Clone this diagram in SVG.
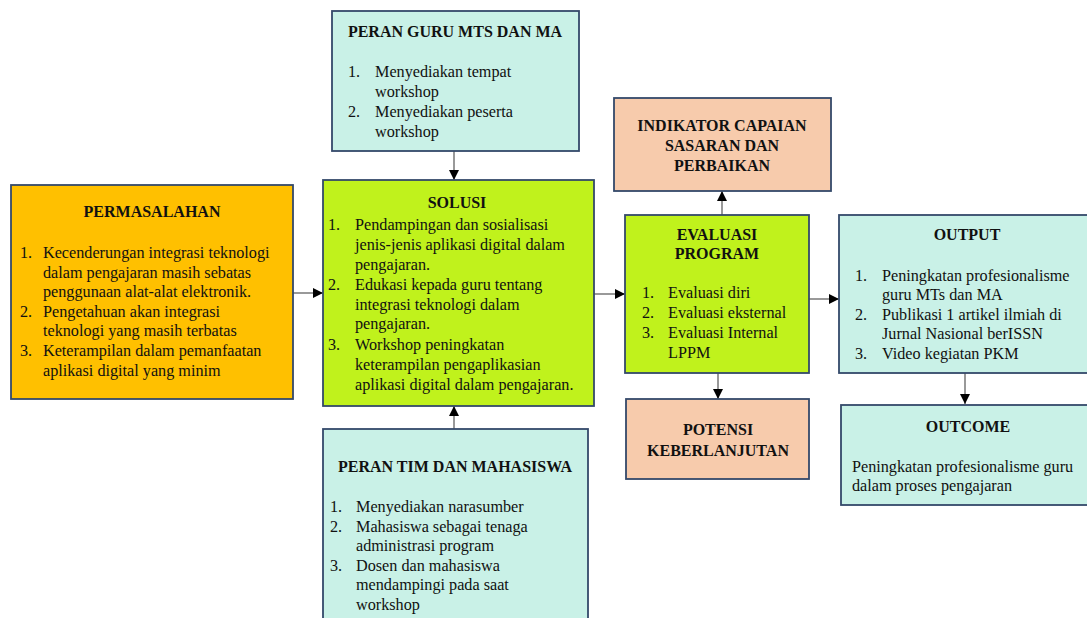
<svg xmlns="http://www.w3.org/2000/svg" width="1087" height="618" viewBox="0 0 1087 618">
<defs>
<marker id="ah" viewBox="0 0 10 10" refX="10" refY="5" markerWidth="10" markerHeight="10" markerUnits="userSpaceOnUse" orient="auto">
<path d="M0,0 L10,5 L0,10 z" fill="#000"/>
</marker>
<style>
.box{stroke:#34496a;stroke-width:1.8}
.org{fill:#ffc000}
.teal{fill:#c9f1e7}
.lime{fill:#c0f21c}
.peach{fill:#f7cbac}
text{font-family:"Liberation Serif","Times New Roman",serif;fill:#111}
.t{font-size:16px;font-weight:bold;text-anchor:middle}
.b{font-size:16.2px}
.c{stroke:#555;stroke-width:1.2;fill:none;marker-end:url(#ah)}
</style>
</defs>
<rect width="1087" height="618" fill="#fff"/>

<g id="connectors">
<line class="c" x1="293" y1="293" x2="323" y2="293"/>
<line class="c" x1="454" y1="151" x2="454" y2="180"/>
<line class="c" x1="454" y1="429" x2="454" y2="406"/>
<line class="c" x1="594" y1="294" x2="625" y2="294"/>
<line class="c" x1="722" y1="215" x2="722" y2="191"/>
<line class="c" x1="718" y1="373" x2="718" y2="399"/>
<line class="c" x1="809" y1="299" x2="839" y2="299"/>
<line class="c" x1="965" y1="373" x2="965" y2="404"/>
</g>

<g id="permasalahan">
<rect class="box org" x="11" y="185" width="282" height="214"/>
<text class="t" x="152" y="217">PERMASALAHAN</text>
<text class="b" x="20" y="258">1.</text>
<text class="b" x="43" y="258">Kecenderungan integrasi teknologi</text>
<text class="b" x="43" y="277.5">dalam pengajaran masih sebatas</text>
<text class="b" x="43" y="297">penggunaan alat-alat elektronik.</text>
<text class="b" x="20" y="316.5">2.</text>
<text class="b" x="43" y="316.5">Pengetahuan akan integrasi</text>
<text class="b" x="43" y="336">teknologi yang masih terbatas</text>
<text class="b" x="20" y="356">3.</text>
<text class="b" x="43" y="356">Keterampilan dalam pemanfaatan</text>
<text class="b" x="43" y="375.5">aplikasi digital yang minim</text>
</g>

<g id="peran-guru">
<rect class="box teal" x="332" y="11" width="247" height="140"/>
<text class="t" x="455" y="37">PERAN GURU MTS DAN MA</text>
<text class="b" x="348" y="77">1.</text>
<text class="b" x="375" y="77">Menyediakan tempat</text>
<text class="b" x="375" y="97">workshop</text>
<text class="b" x="348" y="117">2.</text>
<text class="b" x="375" y="117">Menyediakan peserta</text>
<text class="b" x="375" y="137">workshop</text>
</g>

<g id="solusi">
<rect class="box lime" x="323" y="180" width="271" height="226"/>
<text class="t" x="457" y="208">SOLUSI</text>
<text class="b" x="328" y="230">1.</text>
<text class="b" x="355" y="230">Pendampingan dan sosialisasi</text>
<text class="b" x="355" y="250">jenis-jenis aplikasi digital dalam</text>
<text class="b" x="355" y="269.5">pengajaran.</text>
<text class="b" x="328" y="290">2.</text>
<text class="b" x="355" y="290">Edukasi kepada guru tentang</text>
<text class="b" x="355" y="309.5">integrasi teknologi dalam</text>
<text class="b" x="355" y="329">pengajaran.</text>
<text class="b" x="328" y="350">3.</text>
<text class="b" x="355" y="350">Workshop peningkatan</text>
<text class="b" x="355" y="370">keterampilan pengaplikasian</text>
<text class="b" x="355" y="390">aplikasi digital dalam pengajaran.</text>
</g>

<g id="peran-tim">
<rect class="box teal" x="323" y="429" width="265" height="200"/>
<text class="t" x="455" y="472">PERAN TIM DAN MAHASISWA</text>
<text class="b" x="330" y="512">1.</text>
<text class="b" x="356" y="512">Menyediakan narasumber</text>
<text class="b" x="330" y="532">2.</text>
<text class="b" x="356" y="532">Mahasiswa sebagai tenaga</text>
<text class="b" x="356" y="551">administrasi program</text>
<text class="b" x="330" y="571">3.</text>
<text class="b" x="356" y="571">Dosen dan mahasiswa</text>
<text class="b" x="356" y="590">mendampingi pada saat</text>
<text class="b" x="356" y="610">workshop</text>
</g>

<g id="indikator">
<rect class="box peach" x="614" y="98" width="217" height="93"/>
<text class="t" x="722" y="131">INDIKATOR CAPAIAN</text>
<text class="t" x="722" y="151">SASARAN DAN</text>
<text class="t" x="722" y="171">PERBAIKAN</text>
</g>

<g id="evaluasi">
<rect class="box lime" x="625" y="215" width="184" height="158"/>
<text class="t" x="717" y="240">EVALUASI</text>
<text class="t" x="717" y="259">PROGRAM</text>
<text class="b" x="642" y="298">1.</text>
<text class="b" x="668" y="298">Evaluasi diri</text>
<text class="b" x="642" y="318">2.</text>
<text class="b" x="668" y="318">Evaluasi eksternal</text>
<text class="b" x="642" y="338">3.</text>
<text class="b" x="668" y="338">Evaluasi Internal</text>
<text class="b" x="668" y="358">LPPM</text>
</g>

<g id="potensi">
<rect class="box peach" x="626" y="399" width="183" height="80"/>
<text class="t" x="718" y="435">POTENSI</text>
<text class="t" x="718" y="456">KEBERLANJUTAN</text>
</g>

<g id="output">
<rect class="box teal" x="839" y="215" width="260" height="158"/>
<text class="t" x="967" y="240">OUTPUT</text>
<text class="b" x="855" y="281">1.</text>
<text class="b" x="882" y="281">Peningkatan profesionalisme</text>
<text class="b" x="882" y="300">guru MTs dan MA</text>
<text class="b" x="855" y="320">2.</text>
<text class="b" x="882" y="320">Publikasi 1 artikel ilmiah di</text>
<text class="b" x="882" y="339">Jurnal Nasional berISSN</text>
<text class="b" x="855" y="359">3.</text>
<text class="b" x="882" y="359">Video kegiatan PKM</text>
</g>

<g id="outcome">
<rect class="box teal" x="841" y="405" width="260" height="100"/>
<text class="t" x="968" y="432">OUTCOME</text>
<text class="b" x="852" y="472">Peningkatan profesionalisme guru</text>
<text class="b" x="852" y="491">dalam proses pengajaran</text>
</g>
</svg>
